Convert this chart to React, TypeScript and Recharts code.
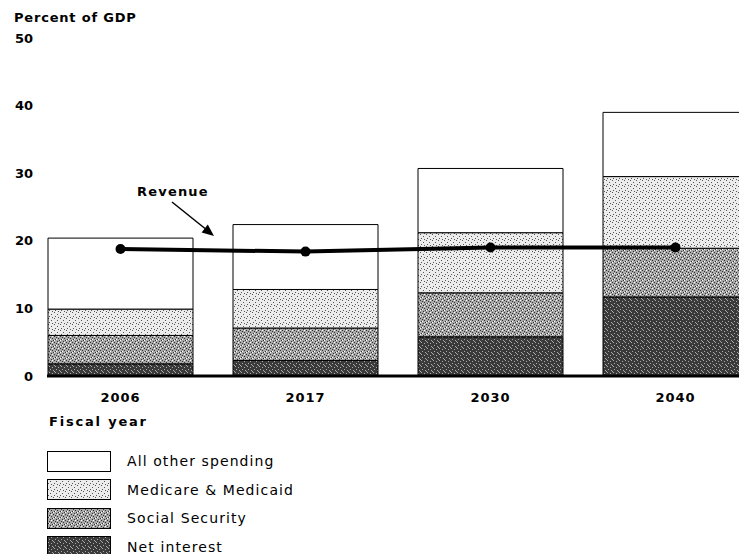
import React from 'react';
import { ComposedChart, Bar, Line, XAxis, YAxis } from 'recharts';

const years = ['2006', '2017', '2030', '2040'];
const netInterest = [1.8, 2.3, 5.8, 11.7];
const socialSecurity = [4.2, 4.8, 6.5, 7.2];
const medicare = [3.9, 5.7, 8.9, 10.6];
const otherSpending = [10.5, 9.6, 9.5, 9.5];
const revenue = [18.8, 18.4, 19.0, 19.0];
const yTicks = [0, 10, 20, 30, 40, 50];

const data = years.map((year, i) => ({
  year,
  netInterest: netInterest[i],
  socialSecurity: socialSecurity[i],
  medicare: medicare[i],
  otherSpending: otherSpending[i],
  revenue: revenue[i],
}));

const legendItems = [
  { label: 'All other spending', fill: '#ffffff' },
  { label: 'Medicare & Medicaid', fill: 'url(#patMed)' },
  { label: 'Social Security', fill: 'url(#patSS)' },
  { label: 'Net interest', fill: 'url(#patNI)' },
];

const FONT = '"DejaVu Sans", "Liberation Sans", Arial, sans-serif';

const boldText = {
  fontFamily: FONT,
  fontWeight: 700,
  fontSize: 13,
  fill: '#000',
};

// stipple textures, close to the scanned print look
const Patterns = () => (
  <svg width={0} height={0} style={{ position: 'absolute' }}>
    <defs>
      <pattern id="patMed" width={6} height={6} patternUnits="userSpaceOnUse">
        <rect width={6} height={6} fill="#ececec" />
        <rect x={0} y={0} width={1} height={1} fill="#555" />
        <rect x={3} y={2} width={1} height={1} fill="#555" />
        <rect x={1} y={4} width={1} height={1} fill="#555" />
        <rect x={4} y={5} width={1} height={1} fill="#555" />
      </pattern>
      <pattern id="patSS" width={6} height={6} patternUnits="userSpaceOnUse">
        <rect width={6} height={6} fill="#a8a8a8" />
        <rect x={0} y={0} width={1} height={1} fill="#333" />
        <rect x={2} y={1} width={1} height={1} fill="#333" />
        <rect x={4} y={2} width={1} height={1} fill="#333" />
        <rect x={1} y={3} width={1} height={1} fill="#333" />
        <rect x={5} y={4} width={1} height={1} fill="#333" />
        <rect x={3} y={5} width={1} height={1} fill="#333" />
        <rect x={4} y={0} width={1} height={1} fill="#fff" />
        <rect x={0} y={4} width={1} height={1} fill="#fff" />
        <rect x={2} y={3} width={1} height={1} fill="#fff" />
      </pattern>
      <pattern id="patNI" width={6} height={6} patternUnits="userSpaceOnUse">
        <rect width={6} height={6} fill="#3a3a3a" />
        <rect x={1} y={0} width={1} height={1} fill="#aaa" />
        <rect x={4} y={1} width={1} height={1} fill="#aaa" />
        <rect x={2} y={3} width={1} height={1} fill="#aaa" />
        <rect x={5} y={4} width={1} height={1} fill="#aaa" />
        <rect x={0} y={5} width={1} height={1} fill="#aaa" />
      </pattern>
    </defs>
  </svg>
);

const YTick = (props: any) => {
  const { x, y, payload } = props;
  return (
    <text x={x} y={y} textAnchor="end" dominantBaseline="central" style={boldText}>
      {payload.value}
    </text>
  );
};

const XTick = (props: any) => {
  const { x, y, payload } = props;
  return (
    <text x={x} y={y + 21} textAnchor="middle" dominantBaseline="central" style={{ ...boldText, letterSpacing: 1 }}>
      {payload.value}
    </text>
  );
};

const Legend = () => (
  <div style={{ position: 'absolute', left: 47, top: 447, fontFamily: FONT, fontSize: 14, letterSpacing: 1.1 }}>
    {legendItems.map((item) => (
      <div key={item.label} style={{ display: 'flex', alignItems: 'center', height: 28.5 }}>
        <svg width={64} height={21} style={{ display: 'block' }}>
          <rect x={0.5} y={0.5} width={63} height={20} fill={item.fill} stroke="#000" strokeWidth={1} />
        </svg>
        <span style={{ marginLeft: 16, color: '#000', lineHeight: '14px' }}>{item.label}</span>
      </div>
    ))}
  </div>
);

const Annotations = () => (
  <svg width={739} height={554} style={{ position: 'absolute', left: 0, top: 0, pointerEvents: 'none' }}>
    <text x={14} y={17} dominantBaseline="central" style={{ ...boldText, letterSpacing: 0.8 }}>
      Percent of GDP
    </text>
    <text x={137} y={191} dominantBaseline="central" style={{ ...boldText, letterSpacing: 1.2 }}>
      Revenue
    </text>
    <line x1={172} y1={202} x2={205} y2={228.5} stroke="#000" strokeWidth={1.5} />
    <polygon points="214,236 201.6,232.4 207.8,224.6" fill="#000" />
    <text x={49} y={421} dominantBaseline="central" style={{ ...boldText, letterSpacing: 1.8 }}>
      Fiscal year
    </text>
  </svg>
);

export default function App() {
  return (
    <div style={{ position: 'absolute', left: 0, top: 0, width: 739, height: 554, overflow: 'hidden', background: '#fff' }}>
      <Patterns />
      <ComposedChart
        width={768}
        height={440}
        data={data}
        margin={{ top: 38, right: 0, left: 0, bottom: 0 }}
        barCategoryGap={20}
      >
        <XAxis
          dataKey="year"
          padding={{ left: -19, right: 0 }}
          tickLine={false}
          tickSize={0}
          tickMargin={0}
          height={64}
          axisLine={{ stroke: '#000', strokeWidth: 3 }}
          tick={<XTick />}
        />
        <YAxis
          domain={[0, 50]}
          ticks={yTicks}
          width={47}
          axisLine={false}
          tickLine={false}
          tickSize={0}
          tickMargin={14}
          tick={<YTick />}
        />
        <Bar dataKey="netInterest" stackId="a" fill="url(#patNI)" stroke="#000" strokeWidth={1} isAnimationActive={false} />
        <Bar dataKey="socialSecurity" stackId="a" fill="url(#patSS)" stroke="#000" strokeWidth={1} isAnimationActive={false} />
        <Bar dataKey="medicare" stackId="a" fill="url(#patMed)" stroke="#000" strokeWidth={1} isAnimationActive={false} />
        <Bar dataKey="otherSpending" stackId="a" fill="#fff" stroke="#000" strokeWidth={1} isAnimationActive={false} />
        <Line
          dataKey="revenue"
          type="linear"
          stroke="#000"
          strokeWidth={4}
          dot={{ r: 5, fill: '#000', stroke: '#000', strokeWidth: 0 }}
          isAnimationActive={false}
        />
      </ComposedChart>
      <Annotations />
      <Legend />
    </div>
  );
}
